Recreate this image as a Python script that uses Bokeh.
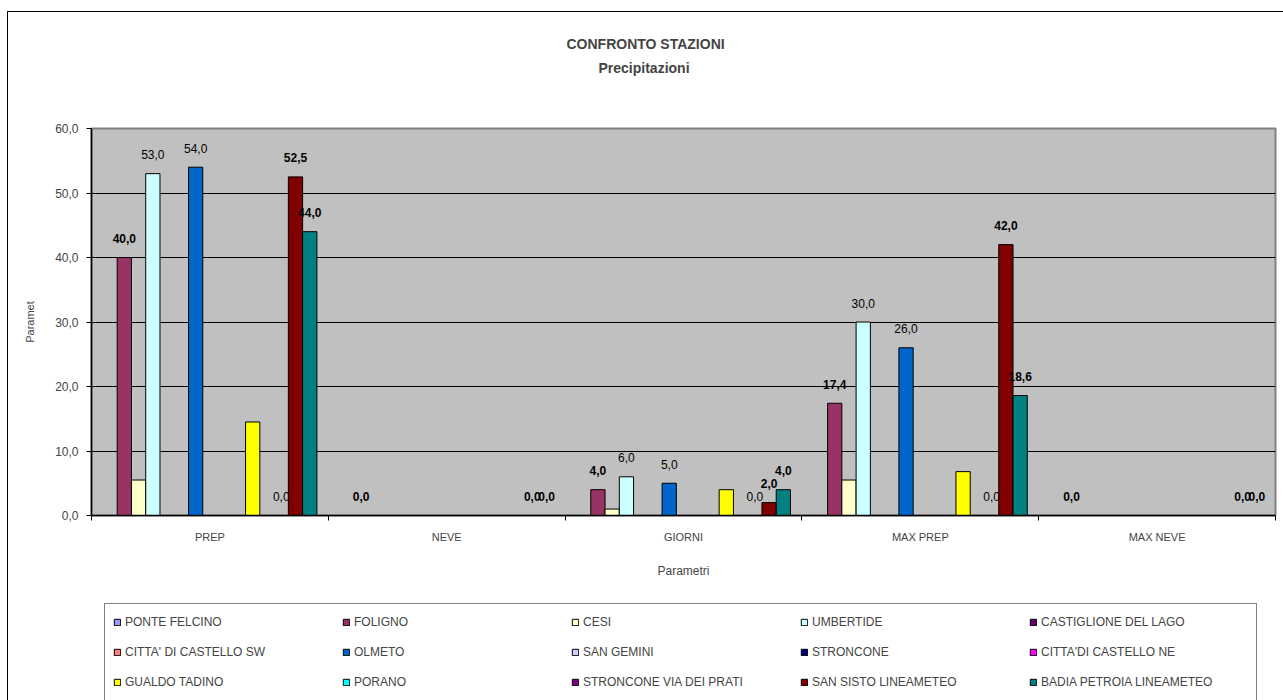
import numpy as np
from bokeh.plotting import figure
from bokeh.layouts import column
from bokeh.models import ColumnDataSource, Range1d, FixedTicker, Legend, LegendItem, Title
from bokeh.core.properties import value
from bokeh.embed import file_html
from bokeh.resources import INLINE

# ---------------- data ----------------
categories = ["PREP", "NEVE", "GIORNI", "MAX PREP", "MAX NEVE"]

stations = ["PONTE FELCINO", "FOLIGNO", "CESI", "UMBERTIDE", "CASTIGLIONE DEL LAGO",
            "CITTA' DI CASTELLO SW", "OLMETO", "SAN GEMINI", "STRONCONE", "CITTA'DI CASTELLO NE",
            "GUALDO TADINO", "PORANO", "STRONCONE VIA DEI PRATI", "SAN SISTO LINEAMETEO",
            "BADIA PETROIA LINEAMETEO"]

colors = ["#9999FF", "#993366", "#FFFFCC", "#CCFFFF", "#660066",
          "#FF8080", "#0066CC", "#CCCCFF", "#000080", "#FF00FF",
          "#FFFF00", "#00FFFF", "#800080", "#800000", "#008080"]

N = None
ponte_felcino = [N, N, N, N, N]
foligno = [40.0, 0.0, 4.0, 17.4, 0.0]
cesi = [5.5, N, 1.0, 5.5, N]
umbertide = [53.0, N, 6.0, 30.0, N]
castiglione_del_lago = [N, N, N, N, N]
citta_castello_sw = [N, N, N, N, N]
olmeto = [54.0, N, 5.0, 26.0, N]
san_gemini = [N, N, N, N, N]
stroncone = [N, N, N, N, N]
citta_castello_ne = [N, N, N, N, N]
gualdo_tadino = [14.5, N, 4.0, 6.8, N]
porano = [N, N, N, N, N]
stroncone_via_dei_prati = [0.0, N, 0.0, 0.0, N]
san_sisto = [52.5, 0.0, 2.0, 42.0, 0.0]
badia_petroia = [44.0, 0.0, 4.0, 18.6, 0.0]

series = [ponte_felcino, foligno, cesi, umbertide, castiglione_del_lago,
          citta_castello_sw, olmeto, san_gemini, stroncone, citta_castello_ne,
          gualdo_tadino, porano, stroncone_via_dei_prati, san_sisto, badia_petroia]

bold_label_series = ["FOLIGNO", "SAN SISTO LINEAMETEO", "BADIA PETROIA LINEAMETEO"]
plain_label_series = ["UMBERTIDE", "OLMETO", "STRONCONE VIA DEI PRATI"]

y_ticks = [0, 10, 20, 30, 40, 50, 60]
y_tick_labels = ["0,0", "10,0", "20,0", "30,0", "40,0", "50,0", "60,0"]

# ---------------- main figure ----------------
FONT = "Liberation Sans"
ncat = len(categories)
p = figure(width=1275, height=586, x_range=Range1d(0, ncat), y_range=Range1d(0, 60),
           output_backend="svg", toolbar_location=None,
           min_border_left=83, min_border_right=8, min_border_top=116, min_border_bottom=83,
           background_fill_color="#C0C0C0", border_fill_color="white",
           outline_line_color="#808080", outline_line_width=2)

# titles (stacked from the frame upward: spacer, subtitle, title)
p.title.text = "CONFRONTO STAZIONI"
p.title.align = "left"
p.title.text_font = FONT
p.title.text_font_size = "14px"
p.title.text_font_style = "bold"
p.title.offset = 475
p.title.standoff = 6
p.add_layout(Title(text=" ", text_font_size="12px", standoff=34), "above")
p.add_layout(Title(text="Precipitazioni", align="left", text_font=FONT,
                   text_font_size="14px", text_font_style="bold", offset=507,
                   standoff=6), "above")

centers = np.arange(ncat) + 0.5
g = 0.0482
w = (1 - 2 * g) / len(stations)

for i, (name, col, vals) in enumerate(zip(stations, colors, series)):
    off = -0.5 + g + (i + 0.5) * w
    top = np.array([np.nan if v is None else v for v in vals], dtype=float)
    src = ColumnDataSource(dict(x=centers + off, top=top))
    p.vbar(x="x", top="top", bottom=0, width=w, source=src,
           fill_color=col, line_color="black", line_width=1)
    if name in bold_label_series or name in plain_label_series:
        mask = ~np.isnan(top)
        labels = [f"{v:.1f}".replace(".", ",") for v in top[mask]]
        lsrc = ColumnDataSource(dict(x=(centers + off)[mask], y=top[mask], t=labels))
        bold = name in bold_label_series
        p.text(x="x", y="y", text="t", source=lsrc, text_align="center",
               text_baseline="middle", y_offset=-19,
               text_font=value(FONT), text_font_size="12px",
               text_font_style="bold" if bold else "normal", text_color="black")

# axes
p.xaxis.ticker = FixedTicker(ticks=list(centers), minor_ticks=list(range(ncat + 1)))
p.xaxis.major_label_overrides = {float(c): cat for c, cat in zip(centers, categories)}
p.xaxis.major_tick_out = 0
p.xaxis.major_tick_in = 0
p.xaxis.minor_tick_out = 5
p.xaxis.minor_tick_in = 0
p.xaxis.minor_tick_line_color = "black"
p.xaxis.major_label_standoff = 10
p.xaxis.major_label_text_font = FONT
p.xaxis.major_label_text_font_size = "11px"
p.xaxis.axis_line_color = "black"
p.xaxis.axis_line_width = 1.5
p.xaxis.axis_label = "Parametri"
p.xaxis.axis_label_text_font = FONT
p.xaxis.axis_label_text_font_size = "12px"
p.xaxis.axis_label_text_font_style = "normal"
p.xaxis.axis_label_standoff = 18

p.yaxis.ticker = FixedTicker(ticks=y_ticks, minor_ticks=[])
p.yaxis.major_label_overrides = {t: l for t, l in zip(y_ticks, y_tick_labels)}
p.yaxis.major_tick_out = 5
p.yaxis.major_tick_in = 0
p.yaxis.major_label_standoff = 8
p.yaxis.major_label_text_font = FONT
p.yaxis.major_label_text_font_size = "12px"
p.yaxis.axis_line_color = "black"
p.yaxis.axis_line_width = 1.5
p.yaxis.axis_label = "Paramet"
p.yaxis.axis_label_text_font = FONT
p.yaxis.axis_label_text_font_size = "11px"
p.yaxis.axis_label_text_font_style = "normal"
p.yaxis.axis_label_standoff = 16

p.xgrid.visible = False
p.ygrid.ticker = FixedTicker(ticks=y_ticks[1:-1])
p.ygrid.grid_line_color = "black"
p.ygrid.grid_line_width = 1.2

# ---------------- legend panel ----------------
lg = figure(width=1275, height=102, x_range=Range1d(0, 1), y_range=Range1d(0, 1),
            output_backend="svg", toolbar_location=None,
            x_axis_location=None, y_axis_location=None,
            min_border_left=83, min_border_right=8, min_border_top=0, min_border_bottom=0,
            background_fill_color="white", border_fill_color="white")
lg.outline_line_color = None
lg.outline_line_alpha = 0
lg.xgrid.visible = False
lg.ygrid.visible = False

items = []
for name, col in zip(stations, colors):
    # one swatch per station (zero-size, hidden) so that the legend draws its square
    r = lg.vbar(x=[0.5], top=[0.5], bottom=0.5, width=0.0, fill_color=col,
                line_color="black", line_width=1, line_alpha=1)
    items.append(LegendItem(label=name, renderers=[r]))

legend = Legend(items=items, ncols=5, orientation="horizontal", location=(13, -1),
                label_text_font=FONT, label_text_font_size="12px",
                glyph_width=8, glyph_height=8, label_width=207, label_height=20,
                label_standoff=4, spacing=10, padding=8, margin=0,
                border_line_color="black", border_line_width=1,
                background_fill_color="white", background_fill_alpha=1)
lg.add_layout(legend, "center")

layout = column(p, lg, spacing=0, margin=(12, 0, 0, 8),
                styles={"outline": "1px solid #000000"})

open("out.html", "w").write(file_html(layout, INLINE))
